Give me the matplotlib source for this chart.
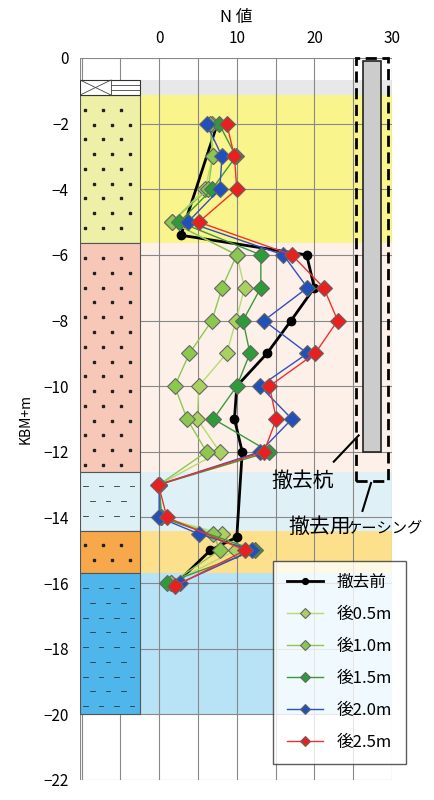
import matplotlib
matplotlib.use("Agg")
import matplotlib.pyplot as plt
import numpy as np
from matplotlib.patches import Rectangle
from matplotlib.legend_handler import HandlerLine2D

plt.rcParams['font.family'] = ['Noto Sans CJK JP', 'DejaVu Sans']

# --- data ---
before_depth = [-2, -5.4, -6, -7, -8, -9, -10, -11, -12, -14.6, -15, -16.1]
before_n     = [7.5, 2.8, 19.0, 20.0, 17.0, 13.9, 10.0, 9.7, 10.7, 10.0, 6.6, 1.8]

depth_a = [-2, -3, -4, -5, -6, -7, -8, -9, -10, -11, -12, -13, -14, -14.5, -15, -16]
n_05 = [6.8, 6.9, 5.9, 1.6, 10.0, 11.0, 9.9, 8.7, 5.1, 4.9, 7.8, 0.0, 0.3, 8.1, 9.9, 1.5]
n_10 = [6.5, 6.9, 6.3, 1.6, 10.0, 8.1, 6.8, 3.9, 2.0, 3.6, 6.1, 0.0, 0.3, 7.0, 7.8, 1.5]
depth_b = [-2, -3, -4, -5, -6, -7, -8, -9, -10, -11, -12, -13, -14, -15, -16]
n_15 = [7.7, 9.9, 6.8, 2.6, 13.1, 13.1, 10.8, 11.7, 10.0, 7.0, 14.2, 0.0, 0.3, 12.4, 1.0]
depth_c = [-2, -3, -4, -5, -6, -7, -8, -9, -10, -11, -12, -13, -14, -14.5, -15, -16]
n_20 = [6.1, 8.1, 7.8, 3.7, 16.0, 19.1, 13.5, 19.1, 13.0, 17.1, 13.0, 0.0, 0.0, 5.1, 12.0, 2.7]
n_25 = [8.7, 9.7, 10.0, 5.1, 17.1, 21.2, 23.0, 20.1, 14.2, 15.1, 13.5, -0.1, 1.0, 11.1, 2.0]
depth_d = [-2, -3, -4, -5, -6, -7, -8, -9, -10, -11, -12, -13, -14, -15, -16.1]

labels = ['撤去前', '後0.5m', '後1.0m', '後1.5m', '後2.0m', '後2.5m']

bands = [(-0.67, -1.13, '#e8e8e8'), (-1.13, -5.65, '#faf48c'), (-5.65, -12.6, '#fdf0e8'),
         (-12.6, -14.4, '#dff0f6'), (-14.4, -15.7, '#fde08c'), (-15.7, -20.0, '#b8e2f6')]
soil = [(-1.13, -5.65, '#eef0a8', 'dot'), (-5.65, -12.6, '#f7c8b8', 'dot'),
        (-12.6, -14.4, '#dcf0f6', 'dash'), (-14.4, -15.7, '#f6a84a', 'dot'),
        (-15.7, -20.0, '#4eb6ea', 'dash')]

fig = plt.figure(figsize=(4.34, 8.0), dpi=100)
ax = fig.add_axes([80/434, 20/800, 312/434, 722/800])
ax.set_xlim(-10.2, 30)
ax.set_ylim(-22, 0)
for s in ax.spines.values():
    s.set_visible(False)

for top, bot, c in bands:
    x0 = -10.2 if c == '#e8e8e8' else -2.5
    ax.add_patch(Rectangle((x0, bot), 30 - x0, top - bot, color=c, zorder=0, lw=0))

for g in np.arange(-10, 31, 5):
    ax.axvline(g, color='#888888', lw=0.8, zorder=1)
for g in np.arange(-22, 1, 2):
    ax.axhline(g, color='#888888', lw=0.8, zorder=1)
ax.axvline(-10.2, color='#888888', lw=0.8, zorder=1)

# soil column
for top, bot, c, pat in soil:
    ax.add_patch(Rectangle((-10.2, bot), 7.7, top - bot, facecolor=c, edgecolor='#555555', lw=0.8, zorder=2))
    ys = np.arange(top - 0.45, bot + 0.1, -0.45)
    for i, yy in enumerate(ys):
        if pat == 'dot':
            xs = np.arange(-9.5, -2.8, 2.3) + (1.1 if i % 2 else 0)
            ax.plot(xs[xs < -2.8], [yy] * len(xs[xs < -2.8]), 's', ms=1.6, color='#222222', zorder=3)
        else:
            for x0 in (-9.8, -7.8, -5.8, -3.8):
                xo = x0 + (0.9 if i % 2 else 0)
                if xo + 0.6 < -2.6:
                    ax.plot([xo, xo + 0.6], [yy, yy], color='#333333', lw=0.6, zorder=3)
# cap
ax.add_patch(Rectangle((-10.2, -1.13), 7.7, 0.46, facecolor='white', edgecolor='#333333', lw=0.8, zorder=2))
ax.plot([-10.2, -6.2], [-0.67, -1.13], color='#444', lw=0.6, zorder=3)
ax.plot([-10.2, -6.2], [-1.13, -0.67], color='#444', lw=0.6, zorder=3)
ax.plot([-6.2, -6.2], [-0.67, -1.13], color='#444', lw=0.6, zorder=3)
ax.plot([-6.2, -2.5], [-0.83, -0.83], color='#444', lw=0.6, zorder=3)
ax.plot([-6.2, -2.5], [-0.98, -0.98], color='#444', lw=0.6, zorder=3)

# pile and casing
ax.add_patch(Rectangle((26.2, -12.0), 2.4, 11.9, facecolor='#cccccc', edgecolor='#222222', lw=1.2, zorder=2))
ax.add_patch(Rectangle((25.3, -12.9), 4.2, 12.9, fill=False, edgecolor='black', lw=2, ls=(0, (4, 2)), zorder=2, clip_on=False))

mk = dict(marker='D', ms=8, mec='#666666', mew=0.8)
ax.plot(before_n, before_depth, color='black', lw=2, marker='o', ms=6, label=labels[0], zorder=3.5)
ax.plot(n_05, depth_a, color='#b4dc6e', lw=1, mfc='#a9d160', label=labels[1], zorder=4, **mk)
ax.plot(n_10, depth_a, color='#8cc850', lw=1, mfc='#8cc850', label=labels[2], zorder=4, **mk)
ax.plot(n_15, depth_b, color='#3a9a3a', lw=1, mfc='#2e9a3a', label=labels[3], zorder=5, **mk)
ax.plot(n_20, depth_c, color='#3050c0', lw=1, mfc='#2050b8', label=labels[4], zorder=6, **mk)
ax.plot(n_25, depth_d, color='#f03030', lw=1, mfc='#e82020', label=labels[5], zorder=7, **mk)

ax.set_xticks([0, 10, 20, 30])
ax.set_yticks(np.arange(-22, 1, 2))
ax.xaxis.tick_top()
ax.tick_params(length=0, labelsize=11, pad=8)
ax.set_xlabel('N 値', fontsize=12, labelpad=6)
ax.xaxis.set_label_position('top')
ax.set_ylabel('KBM+m', fontsize=10, labelpad=8)

ax.text(14.5, -12.9, '撤去杭', fontsize=15, va='center', ha='left', zorder=9)
ax.plot([22.5, 25.7], [-12.3, -11.5], color='black', lw=1.5, zorder=9)
ax.text(16.6, -14.3, '撤去用', fontsize=15, va='center', ha='left', zorder=9, clip_on=False)
ax.text(24.2, -14.3, 'ケーシング', fontsize=11, va='center', ha='left', zorder=9, clip_on=False)
ax.plot([26.2, 27.3], [-13.8, -12.95], color='black', lw=1.5, zorder=9)

h, l = ax.get_legend_handles_labels()
leg = ax.legend(h, l, loc='lower right',
                bbox_to_anchor=(1.07, 0.01), fontsize=12, frameon=True, fancybox=False,
                edgecolor='#333333', labelspacing=0.9, handlelength=2.2, borderpad=0.8,
                markerscale=0.7)
leg.get_frame().set_linewidth(1)
leg.set_zorder(10)

fig.savefig('out.png', dpi=100)
